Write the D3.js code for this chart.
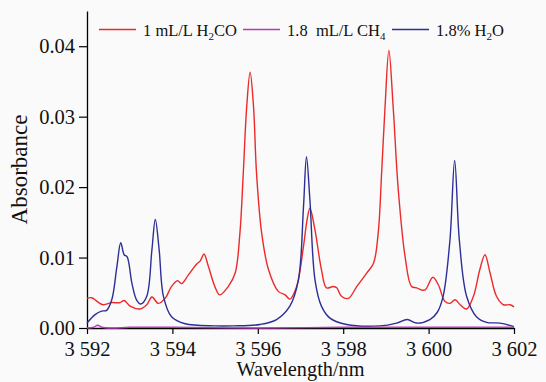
<!DOCTYPE html>
<html>
<head>
<meta charset="utf-8">
<script src="https://cdn.jsdelivr.net/npm/d3@7"></script>
<style>
  html, body { margin: 0; padding: 0; background: #fafafa; }
  svg { display: block; }
  svg text { font-family: 'Liberation Serif', 'DejaVu Serif', serif; }
  .legend text { white-space: pre; }
</style>
</head>
<body>
<div id="chart"></div>
<script>
// wavelength (nm) / absorbance
const h2coX = [3592.00, 3592.11, 3592.25, 3592.38, 3592.58, 3592.77, 3592.87, 3593.01, 3593.24, 3593.40,
  3593.52, 3593.67, 3593.83, 3593.98, 3594.12, 3594.22, 3594.37, 3594.57, 3594.65, 3594.74,
  3594.84, 3595.00, 3595.11, 3595.31, 3595.47, 3595.58, 3595.66, 3595.74, 3595.82, 3595.90,
  3595.97, 3596.09, 3596.25, 3596.48, 3596.64, 3596.75, 3596.91, 3597.07, 3597.15, 3597.22,
  3597.34, 3597.49, 3597.61, 3597.77, 3597.85, 3597.96, 3598.12, 3598.32, 3598.55, 3598.71,
  3598.82, 3598.90, 3598.98, 3599.07, 3599.17, 3599.29, 3599.45, 3599.60, 3599.72, 3599.84,
  3599.92, 3600.10, 3600.23, 3600.38, 3600.50, 3600.62, 3600.74, 3600.89, 3601.05, 3601.20,
  3601.32, 3601.44, 3601.59, 3601.75, 3601.91, 3602.00];
const h2coY = [0.0042, 0.0043, 0.0037, 0.0033, 0.0036, 0.0036, 0.0039, 0.0031, 0.0027, 0.0033,
  0.0044, 0.0035, 0.0042, 0.0059, 0.0067, 0.0063, 0.0075, 0.0091, 0.0095, 0.0105,
  0.0088, 0.0058, 0.0047, 0.0059, 0.0078, 0.0134, 0.0220, 0.0314, 0.0363, 0.0314,
  0.0220, 0.0135, 0.0083, 0.0052, 0.0047, 0.0041, 0.0059, 0.0116, 0.0152, 0.0170,
  0.0139, 0.0083, 0.0057, 0.0059, 0.0057, 0.0045, 0.0042, 0.0059, 0.0078, 0.0092,
  0.0135, 0.0220, 0.0314, 0.0394, 0.0314, 0.0196, 0.0101, 0.0059, 0.0057, 0.0054,
  0.0054, 0.0072, 0.0061, 0.0038, 0.0035, 0.0040, 0.0033, 0.0027, 0.0045, 0.0083,
  0.0104, 0.0078, 0.0045, 0.0033, 0.0033, 0.0030];

const ch4X = [3592.00, 3592.15, 3592.25, 3592.35, 3592.60, 3593.00, 3594.00, 3596.00, 3598.00, 3600.00, 3601.00, 3602.00];
const ch4Y = [0.0000, 0.0001, 0.0004, 0.0001, 0.0000, 0.0001, 0.0001, 0.0000, 0.0001, 0.0001, 0.0001, 0.0001];

const h2oX = [3592.00, 3592.19, 3592.34, 3592.46, 3592.58, 3592.70, 3592.79, 3592.87, 3592.94, 3593.05,
  3593.16, 3593.26, 3593.40, 3593.52, 3593.60, 3593.69, 3593.79, 3593.98, 3594.30, 3595.00,
  3595.43, 3596.05, 3596.44, 3596.75, 3596.95, 3597.07, 3597.14, 3597.22, 3597.34, 3597.49,
  3597.69, 3598.08, 3598.86, 3599.25, 3599.50, 3599.72, 3600.03, 3600.20, 3600.34, 3600.50,
  3600.61, 3600.72, 3600.89, 3601.12, 3601.36, 3601.67, 3602.00];
const h2oY = [0.0007, 0.0019, 0.0024, 0.0025, 0.0040, 0.0087, 0.0121, 0.0104, 0.0101, 0.0064,
  0.0040, 0.0034, 0.0045, 0.0111, 0.0154, 0.0111, 0.0045, 0.0016, 0.0006, 0.0003,
  0.0003, 0.0005, 0.0012, 0.0031, 0.0068, 0.0172, 0.0243, 0.0182, 0.0068, 0.0031,
  0.0014, 0.0005, 0.0003, 0.0007, 0.0012, 0.0007, 0.0012, 0.0022, 0.0045, 0.0125,
  0.0238, 0.0125, 0.0045, 0.0016, 0.0008, 0.0007, 0.0002];

const xTicks = [3592, 3594, 3596, 3598, 3600, 3602];
const yTicks = [0, 0.01, 0.02, 0.03, 0.04];

const seriesNames = ['1 mL/L H|2|CO', '1.8  mL/L CH|4|', '1.8% H|2|O'];
const seriesColors = ['#ec2a2a', '#b43cb4', '#2c2f96'];

const serif = "'Liberation Serif', 'DejaVu Serif', serif";

const width = 546, height = 382;
const margin = { top: 11, right: 32, bottom: 54, left: 87 };
const innerW = width - margin.left - margin.right;
const innerH = height - margin.top - margin.bottom;

const svg = d3.select('#chart').append('svg')
  .attr('width', width)
  .attr('height', height);

const g = svg.append('g')
  .attr('transform', `translate(${margin.left},${margin.top})`);

const x = d3.scaleLinear().domain([3592, 3602]).range([0, innerW]);
const y = d3.scaleLinear().domain([0, 0.045]).range([innerH, 0]);

const fmtX = d => String(d).replace(/(\d)(\d{3})$/, '$1 $2');

// axes
const xAxis = g.append('g')
  .attr('transform', `translate(0,${innerH})`)
  .call(d3.axisBottom(x).tickValues(xTicks).tickFormat(fmtX).tickSize(6).tickSizeOuter(0).tickPadding(7));
const yAxis = g.append('g')
  .call(d3.axisLeft(y).tickValues(yTicks).tickFormat(d3.format('.2f')).tickSize(8).tickSizeOuter(0).tickPadding(4));

[xAxis, yAxis].forEach(a => {
  a.attr('font-family', serif).attr('font-size', 20.5);
  a.select('.domain').attr('stroke', '#000').attr('stroke-width', 1.3);
  a.selectAll('.tick line').attr('stroke', '#000').attr('stroke-width', 1.2);
  a.selectAll('.tick text').attr('fill', '#111');
});

// axis titles
svg.append('text')
  .attr('x', margin.left + innerW / 2)
  .attr('y', 376)
  .attr('text-anchor', 'middle')
  .attr('font-family', serif)
  .attr('font-size', 20.3)
  .attr('fill', '#111')
  .text('Wavelength/nm');

svg.append('text')
  .attr('transform', `translate(27,${margin.top + innerH / 2}) rotate(-90)`)
  .attr('text-anchor', 'middle')
  .attr('font-family', serif)
  .attr('font-size', 23)
  .attr('fill', '#111')
  .text('Absorbance');

// lines
const line = d3.line()
  .x(d => x(d[0]))
  .y(d => y(d[1]))
  .curve(d3.curveCatmullRom.alpha(0.5));

const series = [
  { xs: h2coX, ys: h2coY, color: seriesColors[0] },
  { xs: h2oX, ys: h2oY, color: seriesColors[2] },
  { xs: ch4X, ys: ch4Y, color: seriesColors[1] }
];

series.forEach(s => {
  g.append('path')
    .datum(s.xs.map((v, i) => [v, s.ys[i]]))
    .attr('d', line)
    .attr('fill', 'none')
    .attr('stroke', s.color)
    .attr('stroke-width', 1.4);
});

// legend
const legend = svg.append('g').attr('class', 'legend');
const legendX = [99, 243, 392];
seriesNames.forEach((name, i) => {
  const lx = legendX[i];
  legend.append('line')
    .attr('x1', lx).attr('x2', lx + 37)
    .attr('y1', 29.5).attr('y2', 29.5)
    .attr('stroke', seriesColors[i])
    .attr('stroke-width', 1.5);
  const t = legend.append('text')
    .attr('x', lx + 44)
    .attr('y', 35.5)
    .attr('font-family', serif)
    .attr('font-size', 16.5)
    .attr('fill', '#111');
  name.split('|').forEach((part, j) => {
    if (!part) return;
    const ts = t.append('tspan').text(part);
    if (j % 2 === 1) ts.attr('dy', 4).attr('font-size', 11);
    else if (j > 0) ts.attr('dy', -4);
  });
});
</script>
</body>
</html>
